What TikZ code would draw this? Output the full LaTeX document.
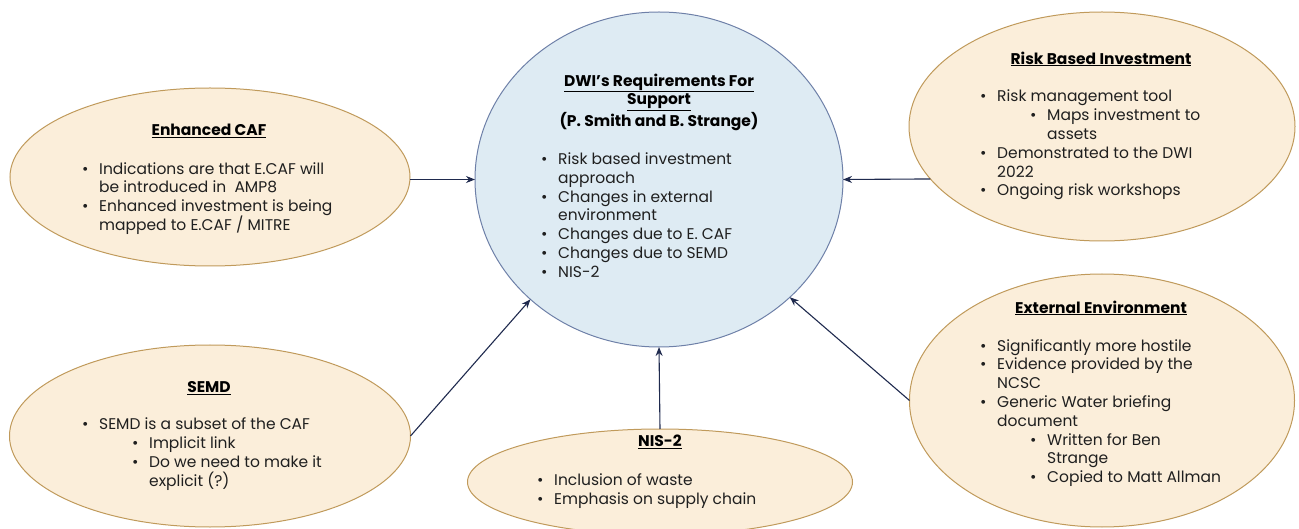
\documentclass[tikz,border=0pt]{standalone}
\usepackage{fontspec}
\setmainfont{Poppins}
\usetikzlibrary{shapes.geometric,arrows.meta}
\definecolor{creamfill}{HTML}{FBEEDA}
\definecolor{creamline}{HTML}{C09A5B}
\definecolor{bluefill}{HTML}{DEEBF3}
\definecolor{blueline}{HTML}{6E80A8}
\definecolor{navy}{HTML}{1F2A4E}
\newcommand{\bul}{\makebox[17pt][l]{\textbullet}}
\newcommand{\hang}{\hspace*{17pt}}
\newcommand{\subbul}{\hspace*{50pt}\makebox[17pt][l]{\textbullet}}
\newcommand{\subhang}{\hspace*{67pt}}
\newcommand{\hd}[1]{\underline{\textbf{#1}}}
\begin{document}
\begin{tikzpicture}[x=1pt,y=-1pt,
    topic/.style={ellipse,draw=creamline,fill=creamfill,line width=1pt,inner sep=0pt,outer sep=0pt},
    hub/.style={ellipse,draw=blueline,fill=bluefill,line width=1pt,inner sep=0pt,outer sep=0pt},
    head/.style={align=center,inner sep=0pt,font=\fontsize{15.5}{18.8}\selectfont},
    body/.style={align=left,anchor=west,inner sep=0pt,text=black!88,font=\fontsize{15.5}{18.8}\selectfont},
    link/.style={draw=navy,line width=1.1pt,-{Stealth[length=9pt,width=7pt]}}]
    \useasboundingbox (0,0) rectangle (1299,529);
    % ellipses
    \node[hub,minimum width=368pt,minimum height=335pt] (dwi) at (659,179.5) {};
    \node[topic,minimum width=400pt,minimum height=178pt] (caf) at (210,177) {};
    \node[topic,minimum width=386pt,minimum height=229pt] (rbi) at (1102,126.5) {};
    \node[topic,minimum width=401pt,minimum height=182pt] (semd) at (210,436) {};
    \node[topic,minimum width=385pt,minimum height=106pt] (nis) at (660,482) {};
    \node[topic,minimum width=385pt,minimum height=253pt] (ext) at (1102,400.5) {};
    % centre text
    \node[head] (dwi-h) at (659,102) {\hd{DWI’s Requirements For}\\ \hd{Support}\\ \textbf{(P. Smith and B. Strange)}};
    \node[body] (dwi-b) at (541,215) {\bul Risk based investment\\ \hang approach\\ \bul Changes in external\\ \hang environment\\ \bul Changes due to E. CAF\\ \bul Changes due to SEMD\\ \bul NIS-2};
    % Enhanced CAF
    \node[head] (caf-h) at (209,131) {\hd{Enhanced CAF}};
    \node[body] (caf-b) at (82,198.5) {\bul Indications are that E.CAF will\\ \hang be introduced in\ \ AMP8\\ \bul Enhanced investment is being\\ \hang mapped to E.CAF / MITRE};
    % Risk Based Investment
    \node[head] (rbi-h) at (1101,59) {\hd{Risk Based Investment}};
    \node[body] (rbi-b) at (980,145) {\bul Risk management tool\\ \subbul Maps investment to\\ \subhang assets\\ \bul Demonstrated to the DWI\\ \hang 2022\\ \bul Ongoing risk workshops};
    % SEMD
    \node[head] (semd-h) at (209,388) {\hd{SEMD}};
    \node[body] (semd-b) at (82,454) {\bul SEMD is a subset of the CAF\\ \subbul Implicit link\\ \subbul Do we need to make it\\ \subhang explicit (?)};
    % NIS-2
    \node[head] (nis-h) at (660,442) {\hd{NIS-2}};
    \node[body] (nis-b) at (537,491) {\bul Inclusion of waste\\ \bul Emphasis on supply chain};
    % External Environment
    \node[head] (ext-h) at (1101,308) {\hd{External Environment}};
    \node[body] (ext-b) at (980,413) {\bul Significantly more hostile\\ \bul Evidence provided by the\\ \hang NCSC\\ \bul Generic Water briefing\\ \hang document\\ \subbul Written for Ben\\ \subhang Strange\\ \subbul Copied to Matt Allman};
    % arrows into the centre
    \draw[link] (caf.east |- dwi.west) -- (dwi.west);
    \draw[link] (rbi.197) -- (dwi.east);
    \draw[link] (semd.east) -- (dwi.223);
    \draw[link] (nis.north) -- (dwi.south);
    \draw[link] (ext.west) -- (dwi.318);
\end{tikzpicture}
\end{document}
